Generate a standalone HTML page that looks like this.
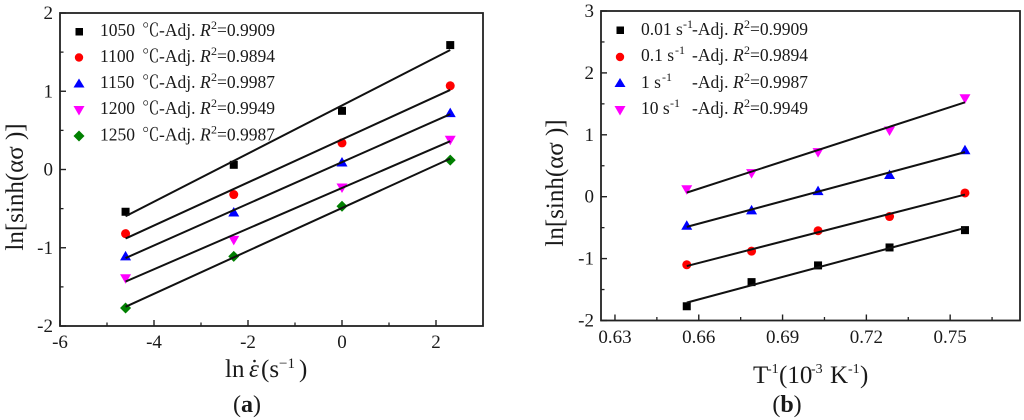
<!DOCTYPE html>
<html lang="en">
<head>
<meta charset="utf-8">
<title>Arrhenius fits</title>
<style>
html,body{margin:0;padding:0;background:#fff;width:1024px;height:420px;overflow:hidden}
svg{display:block}
text{font-family:"Liberation Serif","Noto Serif CJK SC",serif;fill:#1a1a1a}
.tick{font-size:19px}
.leg{font-size:17.5px}
.sup{font-size:12px}
.title{font-size:25px}
</style>
</head>
<body>
<svg id="fig" xmlns="http://www.w3.org/2000/svg" width="1024" height="420" viewBox="0 0 1024 420">
  <g id="chart-a"></g>
  <g id="chart-b"></g>

  <g>
    <g class="leg"><rect x="75.5" y="28" width="7.5" height="7.5" fill="#000"/><text x="100" y="36">1050</text><text x="142" y="36">℃</text><text x="159" y="36">-Adj.</text><text x="200" y="36" font-style="italic">R</text><text x="211" y="29" class="sup">2</text><text x="217" y="36">=0.9909</text></g>
    <g class="leg"><circle cx="79" cy="57.5" r="4.2" fill="#f00"/><text x="100" y="62">1100</text><text x="142" y="62">℃</text><text x="159" y="62">-Adj.</text><text x="200" y="62" font-style="italic">R</text><text x="211" y="55" class="sup">2</text><text x="217" y="62">=0.9894</text></g>
    <g class="leg"><polygon points="79,78.5 84.5,87.5 73.5,87.5" fill="#00f"/><text x="100" y="88">1150</text><text x="142" y="88">℃</text><text x="159" y="88">-Adj.</text><text x="200" y="88" font-style="italic">R</text><text x="211" y="81" class="sup">2</text><text x="217" y="88">=0.9987</text></g>
    <g class="leg"><polygon points="79,115.5 84.5,106 73.5,106" fill="#f0f"/><text x="100" y="114">1200</text><text x="142" y="114">℃</text><text x="159" y="114">-Adj.</text><text x="200" y="114" font-style="italic">R</text><text x="211" y="107" class="sup">2</text><text x="217" y="114">=0.9949</text></g>
    <g class="leg"><polygon points="79,130.5 84.5,136 79,141.5 73.5,136" fill="#008000"/><text x="100" y="140.5">1250</text><text x="142" y="140.5">℃</text><text x="159" y="140.5">-Adj.</text><text x="200" y="140.5" font-style="italic">R</text><text x="211" y="133.5" class="sup">2</text><text x="217" y="140.5">=0.9987</text></g>
  </g>

  <g>
    <g class="leg"><rect x="616.5" y="26.5" width="7.5" height="7.5" fill="#000"/><text x="641" y="35">0.01 s</text><text x="683" y="28" class="sup">-1</text><text x="692" y="35">-Adj.</text><text x="733" y="35" font-style="italic">R</text><text x="744" y="28" class="sup">2</text><text x="750" y="35">=0.9909</text></g>
    <g class="leg"><circle cx="620" cy="57" r="4.2" fill="#f00"/><text x="641" y="61">0.1 s</text><text x="675" y="54" class="sup">-1</text><text x="692" y="61">-Adj.</text><text x="733" y="61" font-style="italic">R</text><text x="744" y="54" class="sup">2</text><text x="750" y="61">=0.9894</text></g>
    <g class="leg"><polygon points="620,78 625.5,87 614.5,87" fill="#00f"/><text x="641" y="88">1 s</text><text x="662" y="81" class="sup">-1</text><text x="692" y="88">-Adj.</text><text x="733" y="88" font-style="italic">R</text><text x="744" y="81" class="sup">2</text><text x="750" y="88">=0.9987</text></g>
    <g class="leg"><polygon points="620,115.5 625.5,106 614.5,106" fill="#f0f"/><text x="641" y="114">10 s</text><text x="670" y="107" class="sup">-1</text><text x="692" y="114">-Adj.</text><text x="733" y="114" font-style="italic">R</text><text x="744" y="107" class="sup">2</text><text x="750" y="114">=0.9949</text></g>
  </g>

  <text class="title" transform="translate(23,187) rotate(-90)" text-anchor="middle">ln[sinh(ασ )]</text>
  <text class="title" transform="translate(563,183) rotate(-90)" text-anchor="middle">ln[sinh(ασ )]</text>

  <g>
    <text class="title" x="225" y="377">ln</text>
    <text class="title" x="249" y="377" font-style="italic">ε</text>
    <circle cx="254.5" cy="361" r="1.3" fill="#1a1a1a"/>
    <text class="title" x="261" y="377">(s</text>
    <text x="279" y="368" font-size="15">−1</text>
    <text class="title" x="299" y="377">)</text>
  </g>
  <g>
    <text class="title" x="753" y="383">T</text>
    <text x="767" y="373" font-size="14">-1</text>
    <text class="title" x="779" y="383">(10</text>
    <text x="811" y="373" font-size="14">-3</text>
    <text class="title" x="830" y="383">K</text>
    <text x="848" y="373" font-size="14">-1</text>
    <text class="title" x="860" y="383">)</text>
  </g>

  <text x="247" y="412" text-anchor="middle" font-size="24">(<tspan font-weight="bold">a</tspan>)</text>
  <text x="787" y="412" text-anchor="middle" font-size="24">(<tspan font-weight="bold">b</tspan>)</text>
</svg>
<script>
// Panel (a) data
const strainRates = [-4.605, -2.303, 0, 2.303];
const t1050 = [-0.54, 0.06, 0.75, 1.59];
const t1100 = [-0.82, -0.32, 0.34, 1.07];
const t1150 = [-1.11, -0.55, 0.09, 0.72];
const t1200 = [-1.39, -0.90, -0.23, 0.38];
const t1250 = [-1.77, -1.11, -0.47, 0.12];
const aXTicks = [-6, -4, -2, 0, 2];
const aXMinor = [-5, -3, -1, 1];
const aYTicks = [-2, -1, 0, 1, 2];
const aYMinor = [-1.5, -0.5, 0.5, 1.5];

// Panel (b) data
const inverseTemps = [0.6557, 0.6789, 0.7027, 0.7283, 0.7553];
const r001 = [-1.77, -1.38, -1.11, -0.82, -0.54];
const r01 = [-1.10, -0.88, -0.55, -0.32, 0.06];
const r1 = [-0.47, -0.22, 0.09, 0.35, 0.75];
const r10 = [0.12, 0.38, 0.72, 1.07, 1.59];
const bXTicks = ['0.63', '0.66', '0.69', '0.72', '0.75'];
const bXMinor = [0.645, 0.675, 0.705, 0.735, 0.765];
const bYTicks = [-2, -1, 0, 1, 2, 3];
const bYMinor = [-1.5, -0.5, 0.5, 1.5, 2.5];

const NS = 'http://www.w3.org/2000/svg';

function make(parent, tag, attrs) {
  const el = document.createElementNS(NS, tag);
  for (const k in attrs) el.setAttribute(k, attrs[k]);
  parent.appendChild(el);
  return el;
}

function fit(xs, ys) {
  const n = xs.length;
  const mx = xs.reduce((a, b) => a + b, 0) / n;
  const my = ys.reduce((a, b) => a + b, 0) / n;
  let sxy = 0, sxx = 0;
  for (let i = 0; i < n; i++) {
    sxy += (xs[i] - mx) * (ys[i] - my);
    sxx += (xs[i] - mx) * (xs[i] - mx);
  }
  const m = sxy / sxx;
  return function (x) { return my + m * (x - mx); };
}

function marker(g, kind, cx, cy) {
  let el;
  if (kind === 'square') {
    el = make(g, 'rect', { x: cx - 4, y: cy - 4, width: 8, height: 8, fill: '#000' });
  } else if (kind === 'circle') {
    el = make(g, 'circle', { cx: cx, cy: cy, r: 4.5, fill: '#f00' });
  } else if (kind === 'up') {
    el = make(g, 'polygon', { points: [cx, cy - 5.5, cx + 5.5, cy + 4, cx - 5.5, cy + 4].join(','), fill: '#00f' });
  } else if (kind === 'down') {
    el = make(g, 'polygon', { points: [cx, cy + 5.5, cx + 5.5, cy - 4, cx - 5.5, cy - 4].join(','), fill: '#f0f' });
  } else {
    el = make(g, 'polygon', { points: [cx, cy - 5.5, cx + 5.5, cy, cx, cy + 5.5, cx - 5.5, cy].join(','), fill: '#008000' });
  }
  return el;
}

function drawChart(g, cfg) {
  const sx = v => cfg.left + (v - cfg.xMin) / (cfg.xMax - cfg.xMin) * (cfg.right - cfg.left);
  const sy = v => cfg.bottom - (v - cfg.yMin) / (cfg.yMax - cfg.yMin) * (cfg.bottom - cfg.top);

  const frame = make(g, 'rect', { x: cfg.left, y: cfg.top, width: cfg.right - cfg.left, height: cfg.bottom - cfg.top, fill: 'none', stroke: '#222', 'stroke-width': 1.8 });
  
  

  cfg.xTicks.forEach(function (t) {
    const v = Number(t);
    const tick = make(g, 'line', { x1: sx(v), x2: sx(v), y1: cfg.bottom, y2: cfg.bottom - 6, stroke: '#222', 'stroke-width': 1.4 });
    
    
    const label = make(g, 'text', { x: sx(v), y: cfg.xLabelY, 'text-anchor': 'middle', class: 'tick' });
    label.textContent = t;
    
    
  });
  cfg.xMinor.forEach(function (v) {
    const tick = make(g, 'line', { x1: sx(v), x2: sx(v), y1: cfg.bottom, y2: cfg.bottom - 3.5, stroke: '#222', 'stroke-width': 1.3 });
    
    
  });
  cfg.yTicks.forEach(function (v) {
    const tick = make(g, 'line', { x1: cfg.left, x2: cfg.left + 6, y1: sy(v), y2: sy(v), stroke: '#222', 'stroke-width': 1.4 });
    
    
    const label = make(g, 'text', { x: cfg.left - 7, y: sy(v) + 6, 'text-anchor': 'end', class: 'tick' });
    label.textContent = String(v);
    
    
  });
  cfg.yMinor.forEach(function (v) {
    const tick = make(g, 'line', { x1: cfg.left, x2: cfg.left + 3.5, y1: sy(v), y2: sy(v), stroke: '#222', 'stroke-width': 1.3 });
    
    
  });

  cfg.series.forEach(function (s) {
    const sg = make(g, 'g', {});
    
    
    cfg.xs.forEach(function (x, i) {
      const m = marker(sg, s.kind, sx(x), sy(s.values[i]));
      
      
    });
    const f = fit(cfg.xs, s.values);
    const x0 = cfg.xs[0], x1 = cfg.xs[cfg.xs.length - 1];
    const line = make(sg, 'line', { x1: sx(x0), y1: sy(f(x0)), x2: sx(x1), y2: sy(f(x1)), stroke: '#111', 'stroke-width': 2 });
    
    
  });
}

drawChart(document.getElementById('chart-a'), {
  left: 60, right: 483, top: 13, bottom: 326,
  xMin: -6, xMax: 3, yMin: -2, yMax: 2,
  xTicks: aXTicks, xMinor: aXMinor, yTicks: aYTicks, yMinor: aYMinor,
  xLabelY: 348, xs: strainRates,
  series: [
    { name: '1050', kind: 'square', values: t1050 },
    { name: '1100', kind: 'circle', values: t1100 },
    { name: '1150', kind: 'up', values: t1150 },
    { name: '1200', kind: 'down', values: t1200 },
    { name: '1250', kind: 'diamond', values: t1250 }
  ]
});

drawChart(document.getElementById('chart-b'), {
  left: 601, right: 1020, top: 11, bottom: 320.5,
  xMin: 0.625, xMax: 0.775, yMin: -2, yMax: 3,
  xTicks: bXTicks, xMinor: bXMinor, yTicks: bYTicks, yMinor: bYMinor,
  xLabelY: 343, xs: inverseTemps,
  series: [
    { name: '0.01', kind: 'square', values: r001 },
    { name: '0.1', kind: 'circle', values: r01 },
    { name: '1', kind: 'up', values: r1 },
    { name: '10', kind: 'down', values: r10 }
  ]
});
</script>
</body>
</html>
